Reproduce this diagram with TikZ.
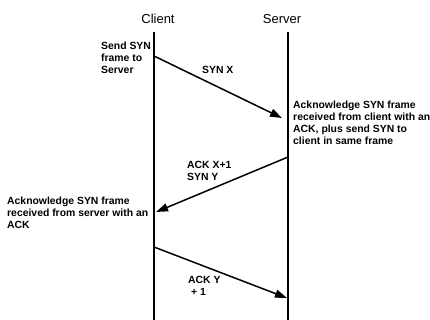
\documentclass[tikz,border=0pt]{standalone}
\usepackage{fontspec}
\setmainfont{Liberation Sans}
\usetikzlibrary{arrows.meta}

\begin{document}
\begin{tikzpicture}[x=1pt,y=-1pt,
        lifeline/.style={line width=2pt},
        msg/.style={line width=1.5pt,-{Triangle[length=12pt,width=8pt]}},
        note/.style={font=\bfseries\fontsize{10.4}{12}\selectfont,align=left,inner sep=0pt,anchor=north west},
        head/.style={font=\fontsize{13}{15}\selectfont,inner sep=0pt}]
    \useasboundingbox (0,0) rectangle (430,320);
            % Headers
            \node[head] (client) at (158,19) {Client};
            \node[head] (server) at (282,19) {Server};
            % Lifelines
            \coordinate (ctop) at (154,32);
            \coordinate (cbot) at (154,320);
            \coordinate (stop) at (288,32);
            \coordinate (sbot) at (288,320);
            \draw[lifeline] (ctop)--(cbot);
            \draw[lifeline] (stop)--(sbot);
            % SYN X
            \coordinate (c1) at (154,56);
            \coordinate (s1) at (282,118);
            \draw[msg] (c1)--(s1);
            \node[note] (send) at (101,42) {Send SYN\\frame to\\Server};
            \node[note] (synx) at (202,66) {SYN X};
            \node[note] (ack1) at (293,101) {Acknowledge SYN frame\\received from client with an\\ACK, plus send SYN to\\client in same frame};
            % ACK X+1 / SYN Y
            \coordinate (s2) at (288,157);
            \coordinate (c2) at (156,212);
            \draw[msg] (s2)--(c2);
            \node[note] (acksyn) at (187,161) {ACK X+1\\SYN Y};
            \node[note] (ack2) at (7,197) {Acknowledge SYN frame\\received from server with an\\ACK};
            % ACK Y+1
            \coordinate (c3) at (154,247);
            \coordinate (s3) at (287,298);
            \draw[msg] (c3)--(s3);
            \node[note] (acky) at (188,276) {ACK Y\\\ + 1};
        \end{tikzpicture}
\end{document}
